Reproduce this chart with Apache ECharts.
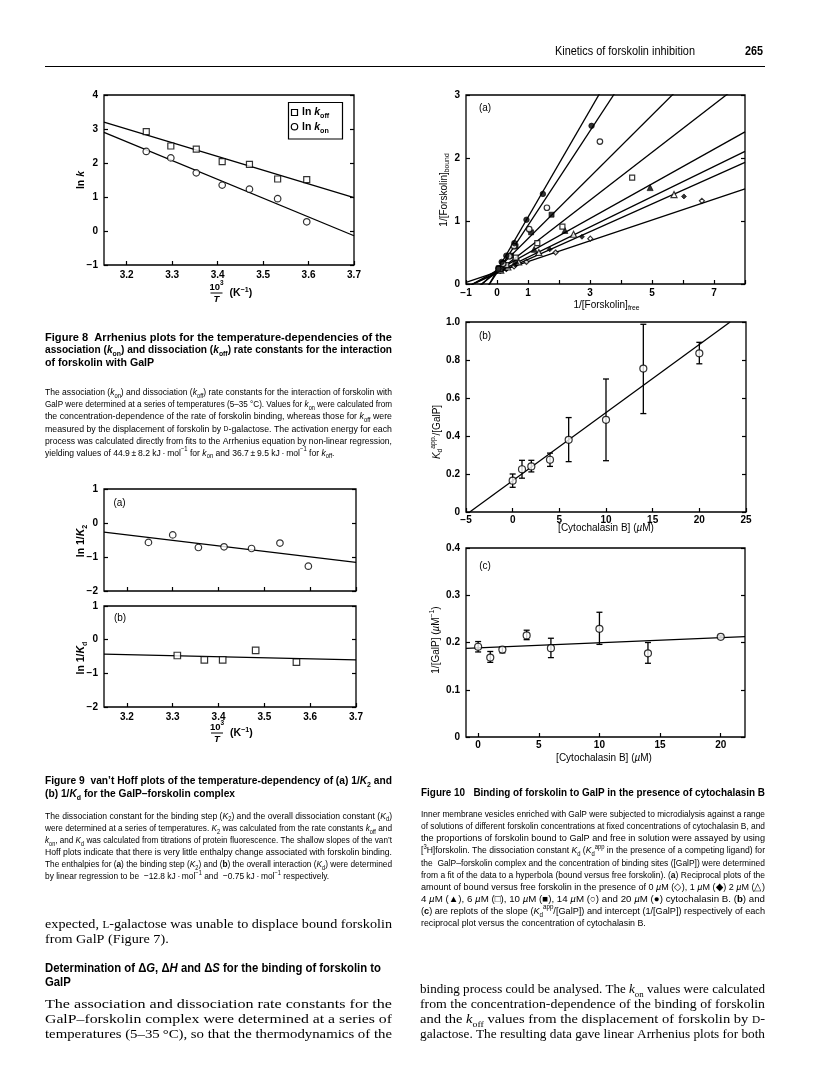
<!DOCTYPE html>
<html><head><meta charset="utf-8">
<script src="https://cdn.jsdelivr.net/npm/echarts@6/dist/echarts.min.js"></script>
<style>html,body{margin:0;padding:0;background:#fff}#c{width:816px;height:1089px}</style>
</head><body><div id="c"></div>
<script>
// ---------------- DATA ----------------
// Figure 8 (Arrhenius)
const fig8InvTemp = [3.243, 3.297, 3.353, 3.410, 3.470, 3.532, 3.596];
const fig8LnKoff = [2.92, 2.50, 2.41, 2.04, 1.96, 1.53, 1.51];
const fig8LnKon = [2.34, 2.15, 1.71, 1.35, 1.23, 0.95, 0.27];
const fig8FitKoff = [[3.15, 3.20], [3.7, 0.98]];
const fig8FitKon = [[3.15, 2.90], [3.7, -0.14]];
const fig8XTicks = [3.2, 3.3, 3.4, 3.5, 3.6, 3.7];
// Figure 9 (van't Hoff)
const fig9aInvTemp = [3.247, 3.300, 3.356, 3.412, 3.472, 3.534, 3.596];
const fig9aLnInvK2 = [-0.57, -0.35, -0.72, -0.70, -0.75, -0.59, -1.27];
const fig9aFit = [[3.15, -0.27], [3.7, -1.16]];
const fig9bInvTemp = [3.310, 3.369, 3.409, 3.481, 3.570];
const fig9bLnInvKd = [-0.47, -0.60, -0.60, -0.32, -0.67];
const fig9bFit = [[3.15, -0.43], [3.7, -0.60]];
// Figure 10a (reciprocal plots), one list per cytochalasin B concentration
const fig10aConc = [0, 1, 2, 4, 6, 10, 14, 20];
const fig10aPts0 = [[0.12, 0.21], [0.3, 0.24], [0.55, 0.28], [0.95, 0.35], [1.89, 0.50], [3.01, 0.72], [6.61, 1.32]];
const fig10aPts1 = [[0.1, 0.2], [0.3, 0.24], [0.6, 0.3], [1.7, 0.55], [2.74, 0.75], [6.03, 1.39]];
const fig10aPts2 = [[0.12, 0.22], [0.35, 0.27], [0.7, 0.35], [1.35, 0.5], [2.47, 0.79], [5.71, 1.42]];
const fig10aPts4 = [[0.1, 0.24], [0.3, 0.3], [0.6, 0.37], [1.2, 0.55], [2.19, 0.85], [4.94, 1.53]];
const fig10aPts6 = [[0.1, 0.24], [0.3, 0.3], [0.6, 0.42], [1.3, 0.65], [2.11, 0.91], [4.36, 1.69]];
const fig10aPts10 = [[0.05, 0.25], [0.2, 0.33], [0.45, 0.45], [0.6, 0.6], [1.10, 0.82], [1.76, 1.10]];
const fig10aPts14 = [[0.05, 0.24], [0.2, 0.32], [0.4, 0.44], [0.55, 0.6], [1.04, 0.87], [1.61, 1.21], [3.32, 2.26]];
const fig10aPts20 = [[0.05, 0.25], [0.15, 0.35], [0.3, 0.45], [0.56, 0.65], [0.95, 1.02], [1.48, 1.43], [3.05, 2.51]];
const fig10aLineSlope = [0.165, 0.22, 0.24, 0.275, 0.38, 0.49, 0.75, 0.85];
const fig10aLineIntercept = [0.19, 0.17, 0.185, 0.215, 0.19, 0.23, 0.18, 0.21];
const fig10aXLabels = [-1, 0, 1, 3, 5, 7];
// Figure 10b / 10c (replots)
const fig10Cyto = [0, 1, 2, 4, 6, 10, 14, 20];
const fig10bSlope = [0.165, 0.225, 0.24, 0.275, 0.38, 0.485, 0.755, 0.835];
const fig10bHi = [0.200, 0.272, 0.272, 0.310, 0.497, 0.700, 0.988, 0.893];
const fig10bLo = [0.130, 0.178, 0.211, 0.240, 0.265, 0.270, 0.518, 0.780];
const fig10bFit = [[-4.6, 0], [23.3, 1.0]];
const fig10cIntercept = [0.191, 0.168, 0.185, 0.215, 0.188, 0.229, 0.177, 0.212];
const fig10cHi = [0.202, 0.181, 0.191, 0.226, 0.209, 0.264, 0.200, 0.214];
const fig10cLo = [0.180, 0.158, 0.178, 0.206, 0.168, 0.196, 0.156, 0.210];
const fig10cFit = [[-1, 0.1875], [22, 0.2125]];
const fig10cXTicks = [0, 5, 10, 15, 20];

// ---------------- STYLE / HELPERS ----------------
const SANS = "'Liberation Sans', Arial, Helvetica, sans-serif";
const NARROW = "'Liberation Sans Narrow', 'Arial Narrow', 'Liberation Sans', Arial, sans-serif";
const SERIF = "'Liberation Serif', 'Times New Roman', Times, serif";
const PI2 = Math.PI / 2;

function mkRich(f) {
  const base = {fontFamily: f.fam, fontSize: f.size, fontWeight: f.weight || 'normal', fontStyle: 'normal', fill: '#000', lineHeight: f.size * 1.4, verticalAlign: 'middle'};
  const c = o => Object.assign({}, base, o);
  const ss = +(f.size * 0.68).toFixed(2);
  return {
    n: c({}), i: c({fontStyle: 'italic'}), b: c({fontWeight: 'bold'}),
    bi: c({fontWeight: 'bold', fontStyle: 'italic'}),
    s: c({fontSize: ss, verticalAlign: 'bottom'}),
    p: c({fontSize: ss, verticalAlign: 'top'}),
    sc: c({fontSize: +(f.size * 0.78).toFixed(2)})
  };
}
function mkStyle(f, text, extra) {
  return Object.assign({text: text, fontFamily: f.fam, fontSize: f.size, fontWeight: f.weight || 'normal',
    fontStyle: 'normal', fill: '#000', lineHeight: f.size * 1.4, align: 'left', verticalAlign: 'middle',
    rich: mkRich(f)}, extra || {});
}
function measureW(st) {
  const t = new echarts.graphic.Text({style: JSON.parse(JSON.stringify(st))});
  return t.getBoundingRect().width;
}
function T(x, y, text, f, o) {
  o = o || {};
  const st = mkStyle(f, text, {align: o.align || 'left'});
  const el = {type: 'text', x: x, y: y, silent: true, style: st};
  if (o.rot) el.rotation = o.rot;
  if (o.width) el.scaleX = o.width / measureW(st);
  if (o.scale) el.scaleX = o.scale;
  return el;
}
function P(lines, x, y0, lh, width, f, justifyLast, lastScale) {
  const sts = lines.map(t => mkStyle(f, t));
  const sc = sts.map(s => width / measureW(s));
  const full = justifyLast ? sc : sc.slice(0, -1);
  const avg = full.length ? full.reduce((a, b) => a + b, 0) / full.length : (lastScale || 1);
  return sts.map((s, i) => {
    const last = (i === lines.length - 1) && !justifyLast;
    return {type: 'text', x: x, y: y0 + i * lh, silent: true,
      scaleX: last ? Math.min(lastScale || avg, sc[i]) : sc[i], style: s};
  });
}
const fmtMinus = v => (v < 0 ? '\u2212' : '') + Math.abs(v);
const tickCfg = (extra) => Object.assign({show: true, inside: true, length: 4, lineStyle: {color: '#000', width: 1.2}}, extra || {});
const labCfg = (extra) => Object.assign({show: true, color: '#000', fontFamily: SANS, fontSize: 10, fontWeight: 'bold', margin: 6}, extra || {});
const noLine = {show: false, onZero: false};

// ---------------- GRIDS & AXES ----------------
const grids = [
  {left: 104, top: 95, width: 250, height: 170},   // fig 8
  {left: 104, top: 489, width: 252, height: 102},  // fig 9a
  {left: 104, top: 606, width: 252, height: 101},  // fig 9b
  {left: 466, top: 95, width: 279, height: 189},   // fig 10a
  {left: 466, top: 322, width: 280, height: 190},  // fig 10b
  {left: 466, top: 548, width: 279, height: 189}   // fig 10c
].map(g => Object.assign({show: true, borderColor: '#000', borderWidth: 1.3, backgroundColor: 'rgba(0,0,0,0)', containLabel: false, outerBoundsMode: 'none'}, g));

const xAxis = [], yAxis = [];
function addX(g, min, max, o) {
  xAxis.push(Object.assign({type: 'value', gridIndex: g, min: min, max: max, position: 'bottom',
    axisLine: noLine, splitLine: {show: false}}, o));
}
function addY(g, min, max, interval, fmt, margin) {
  const base = {type: 'value', gridIndex: g, min: min, max: max, interval: interval, axisLine: noLine, splitLine: {show: false}, axisTick: tickCfg()};
  yAxis.push(Object.assign({}, base, {position: 'left', axisLabel: labCfg({formatter: fmt, margin: margin || 6})}));
  yAxis.push(Object.assign({}, base, {position: 'right', axisLabel: {show: false}}));
}
// fig 8
addX(0, 3.15, 3.7, {axisTick: tickCfg({customValues: fig8XTicks}), axisLabel: labCfg({customValues: fig8XTicks, formatter: v => v.toFixed(1), margin: 5})});
addY(0, -1, 4, 1, fmtMinus);
// fig 9a
addX(1, 3.15, 3.7, {axisTick: tickCfg({customValues: fig8XTicks}), axisLabel: {show: false}});
addY(1, -2, 1, 1, fmtMinus);
// fig 9b
addX(2, 3.15, 3.7, {axisTick: tickCfg({customValues: fig8XTicks}), axisLabel: labCfg({customValues: fig8XTicks, formatter: v => v.toFixed(1), margin: 5})});
addY(2, -2, 1, 1, fmtMinus);
// fig 10a
addX(3, -1, 8, {interval: 1, axisTick: tickCfg(), axisLabel: labCfg({margin: 4, formatter: v => fig10aXLabels.indexOf(v) >= 0 ? fmtMinus(v) : ''})});
addY(3, 0, 3, 1, fmtMinus);
// fig 10b
addX(4, -5, 25, {interval: 5, axisTick: tickCfg(), axisLabel: labCfg({margin: 3, formatter: fmtMinus})});
addY(4, 0, 1, 0.2, v => v === 0 ? '0' : v.toFixed(1));
// fig 10c
addX(5, -1, 22, {axisTick: tickCfg({customValues: fig10cXTicks}), axisLabel: labCfg({customValues: fig10cXTicks, margin: 3})});
addY(5, 0, 0.4, 0.1, v => v === 0 ? '0' : v.toFixed(1));

// ---------------- SERIES ----------------
const series = [];
const zip = (xs, ys) => xs.map((x, i) => [x, ys[i]]);
function fitLine(g, data, z) {
  series.push({type: 'line', xAxisIndex: g, yAxisIndex: 2 * g, data: data, symbol: 'none', clip: true,
    lineStyle: {color: '#000', width: 1.3}, silent: true, z: z || 2});
}
function pts(g, data, symbol, size, filled) {
  series.push({type: 'scatter', xAxisIndex: g, yAxisIndex: 2 * g, data: data, symbol: symbol, symbolSize: size,
    itemStyle: {color: filled ? '#000' : '#fff', borderColor: '#000', borderWidth: filled ? 0.8 : 1.2}, silent: true, z: 4});
}
function errBars(g, xs, lo, hi) {
  series.push({type: 'custom', xAxisIndex: g, yAxisIndex: 2 * g, silent: true, z: 3,
    data: xs.map((x, i) => [x, lo[i], hi[i]]), encode: {x: 0, y: [1, 2]},
    renderItem: function (params, api) {
      const a = api.coord([api.value(0), api.value(2)]);
      const b = api.coord([api.value(0), api.value(1)]);
      const w = 3, st = {stroke: '#000', lineWidth: 1.3};
      return {type: 'group', children: [
        {type: 'line', shape: {x1: a[0], y1: a[1], x2: b[0], y2: b[1]}, style: st},
        {type: 'line', shape: {x1: a[0] - w, y1: a[1], x2: a[0] + w, y2: a[1]}, style: st},
        {type: 'line', shape: {x1: b[0] - w, y1: b[1], x2: b[0] + w, y2: b[1]}, style: st}
      ]};
    }});
}
// fig 8
fitLine(0, fig8FitKoff); fitLine(0, fig8FitKon);
pts(0, zip(fig8InvTemp, fig8LnKoff), 'rect', 6, false);
pts(0, zip(fig8InvTemp, fig8LnKon), 'circle', 6.5, false);
// fig 9
fitLine(1, fig9aFit); pts(1, zip(fig9aInvTemp, fig9aLnInvK2), 'circle', 6.5, false);
fitLine(2, fig9bFit); pts(2, zip(fig9bInvTemp, fig9bLnInvKd), 'rect', 6.5, false);
// fig 10a
fig10aConc.forEach((c, i) => {
  const m = fig10aLineSlope[i], b = fig10aLineIntercept[i];
  fitLine(3, [[-1, b - m], [8, b + 8 * m]]);
});
const fig10aSets = [fig10aPts0, fig10aPts1, fig10aPts2, fig10aPts4, fig10aPts6, fig10aPts10, fig10aPts14, fig10aPts20];
const fig10aMarks = [['diamond', 5, false], ['diamond', 5, true], ['triangle', 6, false], ['triangle', 6, true],
  ['rect', 5, false], ['rect', 5, true], ['circle', 5.5, false], ['circle', 5.5, true]];
fig10aSets.forEach((d, i) => pts(3, d, fig10aMarks[i][0], fig10aMarks[i][1], fig10aMarks[i][2]));
// fig 10b
fitLine(4, fig10bFit); errBars(4, fig10Cyto, fig10bLo, fig10bHi);
pts(4, zip(fig10Cyto, fig10bSlope), 'circle', 7, false);
// fig 10c
fitLine(5, fig10cFit); errBars(5, fig10Cyto, fig10cLo, fig10cHi);
pts(5, zip(fig10Cyto, fig10cIntercept), 'circle', 7, false);

// ---------------- TEXT / GRAPHICS ----------------
const F_AX = {fam: SANS, size: 10.5, weight: 'bold'};
const F_FR = {fam: SANS, size: 9.5, weight: 'bold'};
const F_AX10 = {fam: SANS, size: 10};
const F_PANEL = {fam: SANS, size: 10};
const F_TITLE = {fam: NARROW, size: 11, weight: 'bold'};
const F_CAP = {fam: NARROW, size: 9.5};
const F_BODY = {fam: SERIF, size: 13};
const F_HEAD = {fam: NARROW, size: 12, weight: 'bold'};
const G = [];
function frac(cx, cy) {
  G.push(T(cx, cy - 6, '10{p|3}', F_FR, {align: 'center'}));
  G.push({type: 'line', silent: true, shape: {x1: cx - 6, y1: cy, x2: cx + 6, y2: cy}, style: {stroke: '#000', lineWidth: 1}});
  G.push(T(cx, cy + 6, '{i|T}', F_FR, {align: 'center'}));
  G.push(T(cx + 13, cy + 0.5, '(K{p|\u22121})', F_AX));
}
// header
G.push(T(555, 52, 'Kinetics of forskolin inhibition', {fam: NARROW, size: 12.5}, {width: 140}));
G.push(T(745, 52, '265', {fam: SANS, size: 12.5, weight: 'bold'}, {width: 18}));
G.push({type: 'line', silent: true, shape: {x1: 45, y1: 66.5, x2: 765, y2: 66.5}, style: {stroke: '#000', lineWidth: 1}});
// fig 8 labels + legend
G.push(T(81, 180, 'ln {i|k}', F_AX, {align: 'center', rot: PI2}));
frac(216.5, 293);
G.push({type: 'rect', silent: true, shape: {x: 288.5, y: 102.5, width: 54, height: 36.5}, style: {fill: '#fff', stroke: '#000', lineWidth: 1.2}});
G.push({type: 'rect', silent: true, shape: {x: 291.5, y: 109.5, width: 6, height: 6}, style: {fill: '#fff', stroke: '#000', lineWidth: 1.2}});
G.push({type: 'circle', silent: true, shape: {cx: 294.5, cy: 126.7, r: 3.2}, style: {fill: '#fff', stroke: '#000', lineWidth: 1.2}});
G.push(T(302, 112.5, 'ln {i|k}{s|off}', F_AX));
G.push(T(302, 127, 'ln {i|k}{s|on}', F_AX));
// fig 9 labels
G.push(T(81, 541, 'ln 1/{i|K}{s|2}', F_AX, {align: 'center', rot: PI2}));
G.push(T(81, 658, 'ln 1/{i|K}{s|d}', F_AX, {align: 'center', rot: PI2}));
G.push(T(119.5, 503, '(a)', F_PANEL, {align: 'center'}));
G.push(T(120, 618, '(b)', F_PANEL, {align: 'center'}));
frac(217, 733);
// fig 10 labels
G.push(T(444, 190, '1/[Forskolin]{s|bound}', F_AX10, {align: 'center', rot: PI2}));
G.push(T(606.5, 305, '1/[Forskolin]{s|free}', F_AX10, {align: 'center'}));
G.push(T(437, 432, '{i|K}{s|d}{p|app.}/[GalP]', F_AX10, {align: 'center', rot: PI2}));
G.push(T(606, 528, '[Cytochalasin B] ({i|\u00b5}M)', F_AX10, {align: 'center'}));
G.push(T(436, 640, '1/[GalP] ({i|\u00b5}M{p|\u22121})', F_AX10, {align: 'center', rot: PI2}));
G.push(T(604, 758, '[Cytochalasin B] ({i|\u00b5}M)', F_AX10, {align: 'center'}));
G.push(T(485, 108.3, '(a)', F_PANEL, {align: 'center'}));
G.push(T(485, 336.7, '(b)', F_PANEL, {align: 'center'}));
G.push(T(485, 566, '(c)', F_PANEL, {align: 'center'}));

// captions
G.push(...P([
  'Figure 8  Arrhenius plots for the temperature-dependencies of the',
  'association ({i|k}{s|on}) and dissociation ({i|k}{s|off}) rate constants for the interaction',
  'of forskolin with GalP'], 45, 337.5, 12.6, 347, F_TITLE));
G.push(...P([
  'The association ({i|k}{s|on}) and dissociation ({i|k}{s|off}) rate constants for the interaction of forskolin with',
  'GalP were determined at a series of temperatures (5\u201335 \u00b0C). Values for {i|k}{s|on} were calculated from',
  'the concentration-dependence of the rate of forskolin binding, whereas those for {i|k}{s|off} were',
  'measured by the displacement of forskolin by {sc|D}-galactose. The activation energy for each',
  'process was calculated directly from fits to the Arrhenius equation by non-linear regression,',
  'yielding values of 44.9\u2009\u00b1\u20098.2 kJ\u2009\u00b7\u2009mol{p|\u22121} for {i|k}{s|on} and 36.7\u2009\u00b1\u20099.5 kJ\u2009\u00b7\u2009mol{p|\u22121} for {i|k}{s|off}.'
], 45, 392.7, 12.06, 347, F_CAP));
G.push(...P([
  'Figure 9  van\u2019t Hoff plots of the temperature-dependency of (a) 1/{i|K}{s|2} and',
  '(b) 1/{i|K}{s|d} for the GalP\u2013forskolin complex'], 45, 781, 12.5, 347, F_TITLE));
G.push(...P([
  'The dissociation constant for the binding step ({i|K}{s|2}) and the overall dissociation constant ({i|K}{s|d})',
  'were determined at a series of temperatures. {i|K}{s|2} was calculated from the rate constants {i|k}{s|off} and',
  '{i|k}{s|on}, and {i|K}{s|d} was calculated from titrations of protein fluorescence. The shallow slopes of the van\u2019t',
  'Hoff plots indicate that there is very little enthalpy change associated with forskolin binding.',
  'The enthalpies for ({b|a}) the binding step ({i|K}{s|2}) and ({b|b}) the overall interaction ({i|K}{s|d}) were determined',
  'by linear regression to be  \u221212.8 kJ\u2009\u00b7\u2009mol{p|\u22121} and  \u22120.75 kJ\u2009\u00b7\u2009mol{p|\u22121} respectively.'
], 45, 816, 12.1, 347, F_CAP));
G.push(...P([
  'Figure 10   Binding of forskolin to GalP in the presence of cytochalasin B'], 421, 793, 12.5, 344, F_TITLE, true));
G.push(...P([
  'Inner membrane vesicles enriched with GalP were subjected to microdialysis against a range',
  'of solutions of different forskolin concentrations at fixed concentrations of cytochalasin B, and',
  'the proportions of forskolin bound to GalP and free in solution were assayed by using',
  '[{p|3}H]forskolin. The dissociation constant {i|K}{s|d} ({i|K}{s|d}{p|app} in the presence of a competing ligand) for',
  'the  GalP\u2013forskolin complex and the concentration of binding sites ([GalP]) were determined',
  'from a fit of the data to a hyperbola (bound versus free forskolin). ({b|a}) Reciprocal plots of the',
  'amount of bound versus free forskolin in the presence of 0 {i|\u00b5}M (\u25c7), 1 {i|\u00b5}M (\u25c6) 2 {i|\u00b5}M (\u25b3)',
  '4 {i|\u00b5}M (\u25b2), 6 {i|\u00b5}M (\u25a1), 10 {i|\u00b5}M (\u25a0), 14 {i|\u00b5}M (\u25cb) and 20 {i|\u00b5}M (\u25cf) cytochalasin B. ({b|b}) and',
  '({b|c}) are replots of the slope ({i|K}{s|d}{p|app}/[GalP]) and intercept (1/[GalP]) respectively of each',
  'reciprocal plot versus the concentration of cytochalasin B.'
], 421, 814.5, 12.1, 344, F_CAP));
// body text
G.push(...P([
  'expected, {sc|L}-galactose was unable to displace bound forskolin',
  'from GalP (Figure 7).'], 45, 925, 15, 347, F_BODY));
const headLines = P(['Determination of \u0394{i|G}, \u0394{i|H} and \u0394{i|S} for the binding of forskolin to'], 45, 969, 14, 336, F_HEAD, true);
G.push(...headLines);
G.push(...P(['GalP'], 45, 983, 14, 336, F_HEAD, false, headLines[0].scaleX));
G.push(...P([
  'The association and dissociation rate constants for the',
  'GalP\u2013forskolin complex were determined at a series of',
  'temperatures (5\u201335\u2009\u00b0C), so that the thermodynamics of the'], 45, 1005, 15, 347, F_BODY, true));
G.push(...P([
  'binding process could be analysed. The {i|k}{s|on} values were calculated',
  'from the concentration-dependence of the binding of forskolin',
  'and the {i|k}{s|off} values from the displacement of forskolin by {sc|D}-',
  'galactose. The resulting data gave linear Arrhenius plots for both'], 420, 990, 15, 345, F_BODY, true));

const chart = echarts.init(document.getElementById('c'), null, {renderer: 'canvas', width: 816, height: 1089});
chart.setOption({
  animation: false,
  backgroundColor: '#fff',
  grid: grids,
  xAxis: xAxis,
  yAxis: yAxis,
  series: series,
  graphic: {elements: G}
});
</script>
</body></html>
